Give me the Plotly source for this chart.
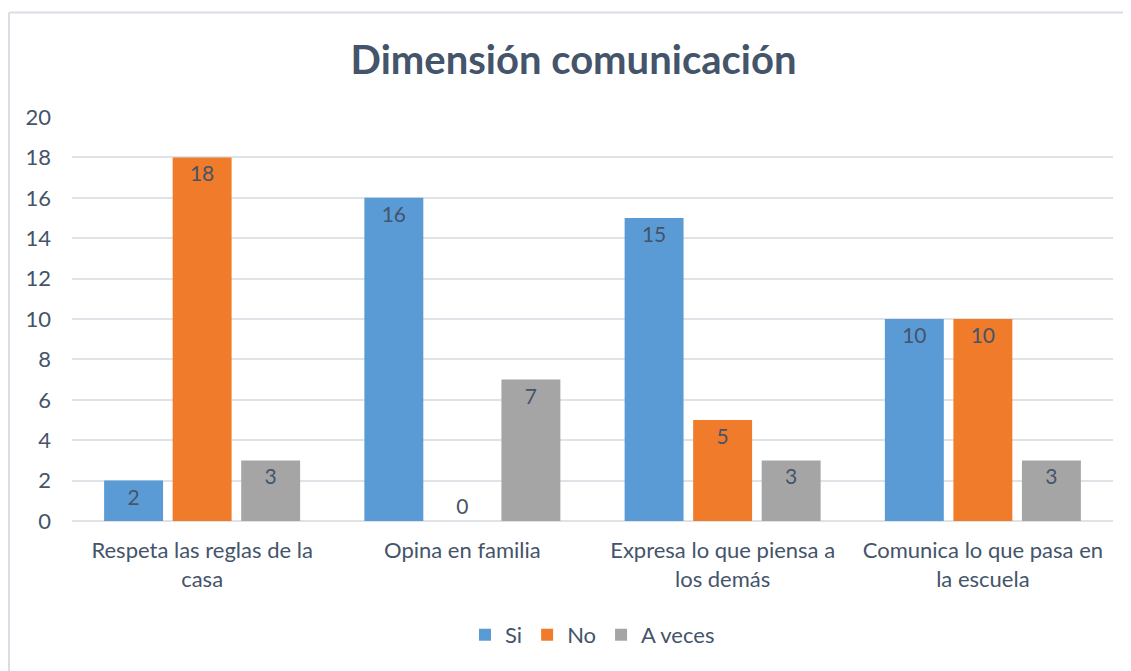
import plotly.graph_objects as go

categories = ["Respeta las reglas de la<br>casa", "Opina en familia",
              "Expresa lo que piensa a<br>los demás", "Comunica lo que pasa en<br>la escuela"]
series_names = ["Si", "No", "A veces"]
si_values = [2, 16, 15, 10]
no_values = [18, 0, 5, 10]
aveces_values = [3, 7, 3, 3]
y_ticks = [0, 2, 4, 6, 8, 10, 12, 14, 16, 18, 20]

colors = ["#5B9BD5", "#F07B2A", "#A5A5A5"]
text_color = "#44546A"
font_family = "Lato, 'Open Sans', sans-serif"

fig = go.Figure()
for name, vals, col in zip(series_names, [si_values, no_values, aveces_values], colors):
    fig.add_trace(go.Bar(
        x=categories, y=vals, name=name,
        marker=dict(color=col, line=dict(width=0)),
        text=[str(v) for v in vals],
        textposition=["outside" if v == 0 else "inside" for v in vals],
        insidetextanchor="end",
        textfont=dict(size=21, color=text_color, family=font_family),
        cliponaxis=False,
    ))

fig.update_layout(
    width=1131, height=671,
    margin=dict(l=64, r=26, t=109, b=158),
    paper_bgcolor="white", plot_bgcolor="white",
    barmode="group", bargap=0.21, bargroupgap=0.14,
    font=dict(family=font_family, color=text_color, size=22),
    title=dict(text="<b>Dimensión comunicación</b>", x=0.5, xanchor="center",
               y=1 - 52 / 671, yanchor="middle",
               font=dict(size=40, color=text_color, family=font_family)),
    showlegend=True,
    legend=dict(orientation="h", x=0.5, xanchor="center", y=-0.282, yanchor="middle",
                font=dict(size=22, color=text_color), itemsizing="constant",
                traceorder="normal"),
    xaxis=dict(showgrid=False, showline=False, ticks="", zeroline=False,
               ticklabelstandoff=14,
               tickfont=dict(size=22, color=text_color)),
    yaxis=dict(range=[0, 20], tickvals=y_ticks, showgrid=True, gridcolor="#DFE3E8",
               gridwidth=1.5, zeroline=True, zerolinecolor="#DFE3E8", zerolinewidth=1.5,
               showline=False, ticks="", ticklabelstandoff=20,
               tickfont=dict(size=22, color=text_color)),
    shapes=[
        dict(type="line", xref="paper", yref="paper", x0=-0.0605, x1=-0.0605,
             y0=1.2587, y1=-0.40, line=dict(color="#D9DEE4", width=2)),
        dict(type="line", xref="paper", yref="paper", x0=-0.0605, x1=1.03,
             y0=1.2587, y1=1.2587, line=dict(color="#D9DEE4", width=2)),
    ],
)

fig.write_html("out.html")
